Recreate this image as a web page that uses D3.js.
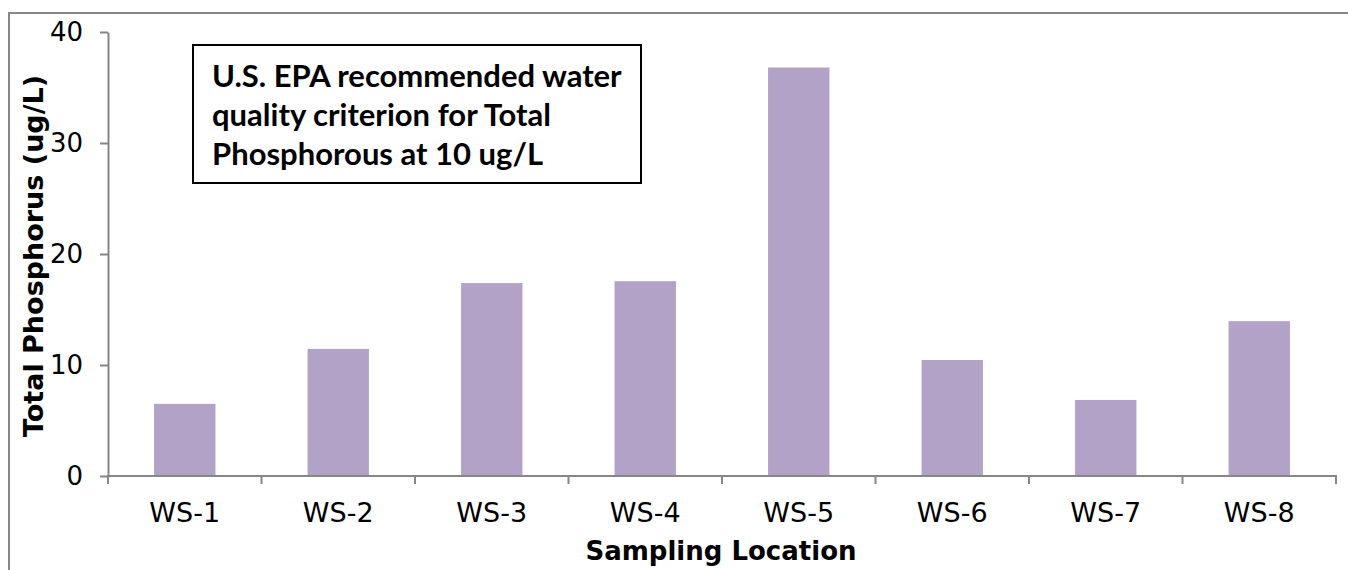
<!DOCTYPE html>
<html>
<head>
<meta charset="utf-8">
<script src="https://cdn.jsdelivr.net/npm/d3@7"></script>
<style>
  html, body { margin: 0; padding: 0; background: #fff; }
  svg { display: block; }
</style>
</head>
<body>
<svg id="chart" width="1348" height="570"></svg>
<script>
// Sampling locations and measured total phosphorus (ug/L)
const locations = ["WS-1", "WS-2", "WS-3", "WS-4", "WS-5", "WS-6", "WS-7", "WS-8"];
const phosphorus = [6.5, 11.45, 17.38, 17.55, 36.8, 10.45, 6.85, 13.95];
const yTicks = [0, 10, 20, 30, 40];
const noteLines = [
  "U.S. EPA recommended water",
  "quality criterion for Total",
  "Phosphorous at 10 ug/L"
];

const svg = d3.select("#chart");
const axisColor = "#878787";
const barColor = "#B3A2C7";
const font = "'DejaVu Sans', Verdana, sans-serif";

const plot = { left: 108, right: 1336, top: 32, bottom: 476 };

// Outer chart-area border (extends past the right and bottom edges)
svg.append("path")
  .attr("d", "M9,575 L9,13 L1355,13")
  .attr("fill", "none")
  .attr("stroke", axisColor)
  .attr("stroke-width", 2);

const x = d3.scaleBand()
  .domain(locations)
  .range([plot.left, plot.right])
  .paddingInner(0.6)
  .paddingOuter(0.3);

const y = d3.scaleLinear()
  .domain([0, 40])
  .range([plot.bottom, plot.top]);

// Bars
svg.append("g")
  .selectAll("rect")
  .data(locations.map((d, i) => ({ loc: d, v: phosphorus[i] })))
  .join("rect")
  .attr("x", d => x(d.loc))
  .attr("y", d => y(d.v))
  .attr("width", x.bandwidth())
  .attr("height", d => y(0) - y(d.v))
  .attr("fill", barColor);

// Y axis
const yAxis = svg.append("g")
  .attr("transform", `translate(${plot.left},0)`)
  .call(d3.axisLeft(y).tickValues(yTicks).tickSize(8).tickSizeOuter(0).tickPadding(17));
yAxis.select(".domain").attr("stroke", axisColor).attr("stroke-width", 2);
yAxis.selectAll(".tick line").attr("stroke", axisColor).attr("stroke-width", 2);
yAxis.selectAll(".tick text")
  .attr("fill", "#000")
  .style("font-family", font)
  .style("font-size", "26px");

// X axis: ticks sit on category boundaries
const boundaries = d3.range(locations.length + 1).map(i => plot.left + i * x.step());
const xg = svg.append("g");
xg.append("line")
  .attr("x1", plot.left - 1).attr("x2", plot.right + 1)
  .attr("y1", y(0)).attr("y2", y(0))
  .attr("stroke", axisColor).attr("stroke-width", 2);
xg.selectAll("line.tick")
  .data(boundaries)
  .join("line")
  .attr("class", "tick")
  .attr("x1", d => d).attr("x2", d => d)
  .attr("y1", y(0)).attr("y2", y(0) + 8)
  .attr("stroke", axisColor).attr("stroke-width", 2);
xg.selectAll("text")
  .data(locations)
  .join("text")
  .attr("x", d => x(d) + x.bandwidth() / 2)
  .attr("y", 522)
  .attr("text-anchor", "middle")
  .style("font-family", font)
  .style("font-size", "27px")
  .text(d => d);

// Axis titles
svg.append("text")
  .attr("x", 721)
  .attr("y", 560)
  .attr("text-anchor", "middle")
  .style("font-family", font)
  .style("font-weight", "bold")
  .style("font-size", "26px")
  .text("Sampling Location");

svg.append("text")
  .attr("transform", "translate(43,256) rotate(-90)")
  .attr("text-anchor", "middle")
  .style("font-family", font)
  .style("font-weight", "bold")
  .style("font-size", "27px")
  .text("Total Phosphorus (ug/L)");

// Criterion note box
const note = svg.append("g");
note.append("rect")
  .attr("x", 193).attr("y", 45)
  .attr("width", 448).attr("height", 138)
  .attr("fill", "#fff")
  .attr("stroke", "#000")
  .attr("stroke-width", 2);
note.selectAll("text")
  .data(noteLines)
  .join("text")
  .attr("x", 212)
  .attr("y", (d, i) => 87 + i * 39)
  .style("font-family", "Lato, 'Open Sans', sans-serif")
  .style("font-weight", "bold")
  .style("font-size", "31px")
  .attr("fill", "#000")
  .text(d => d);
</script>
</body>
</html>
